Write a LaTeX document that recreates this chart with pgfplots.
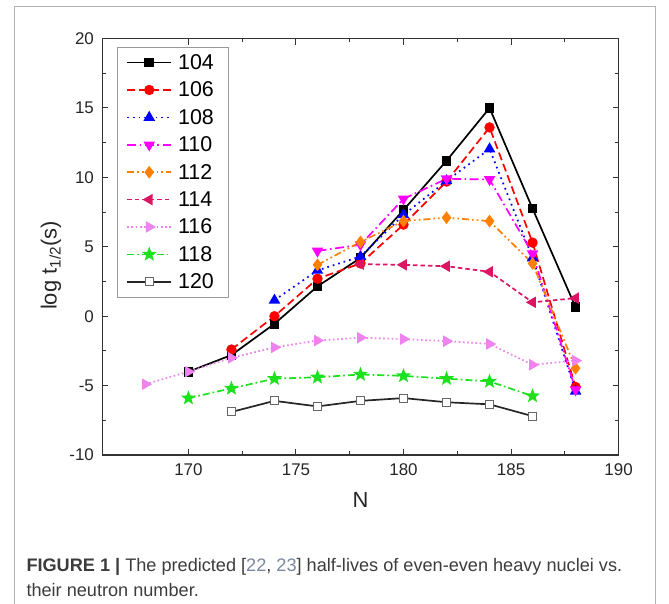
\documentclass[border=0pt]{standalone}
\usepackage{fontspec}
\setmainfont{Liberation Sans}
\usepackage{pgfplots}
\pgfplotsset{compat=1.18}
\usetikzlibrary{plotmarks}

\definecolor{c106}{RGB}{255,0,0}
\definecolor{c108}{RGB}{0,0,255}
\definecolor{c110}{RGB}{255,0,255}
\definecolor{c112}{RGB}{255,128,0}
\definecolor{c114}{RGB}{220,20,100}
\definecolor{c116}{RGB}{238,130,238}
\definecolor{c118}{RGB}{30,225,30}
\definecolor{capgray}{RGB}{60,60,60}
\definecolor{refcol}{RGB}{120,135,160}

% filled five-pointed star
\pgfdeclareplotmark{fstar}{%
  \pgfpathmoveto{\pgfpointpolar{90}{1.2\pgfplotmarksize}}%
  \pgfpathlineto{\pgfpointpolar{126}{0.5\pgfplotmarksize}}%
  \pgfpathlineto{\pgfpointpolar{162}{1.2\pgfplotmarksize}}%
  \pgfpathlineto{\pgfpointpolar{198}{0.5\pgfplotmarksize}}%
  \pgfpathlineto{\pgfpointpolar{234}{1.2\pgfplotmarksize}}%
  \pgfpathlineto{\pgfpointpolar{270}{0.5\pgfplotmarksize}}%
  \pgfpathlineto{\pgfpointpolar{306}{1.2\pgfplotmarksize}}%
  \pgfpathlineto{\pgfpointpolar{342}{0.5\pgfplotmarksize}}%
  \pgfpathlineto{\pgfpointpolar{18}{1.2\pgfplotmarksize}}%
  \pgfpathlineto{\pgfpointpolar{54}{0.5\pgfplotmarksize}}%
  \pgfpathclose
  \pgfusepathqfillstroke
}

\begin{document}
\begin{tikzpicture}
\useasboundingbox (0bp,0bp) rectangle (669bp,604bp);
\draw[gray!60, line width=1bp] (14bp,-5bp) -- (14bp,597bp) -- (655bp,597bp) -- (655bp,-5bp);

\begin{axis}[
  at={(102.4bp,149bp)}, anchor=south west,
  scale only axis,
  width=516.2bp, height=416.4bp,
  xmin=166, xmax=190, ymin=-10, ymax=20,
  xtick={170,175,...,190}, ytick={-10,-5,...,20},
  minor x tick num=1, minor y tick num=1,
  tick align=inside,
  major tick length=6bp, minor tick length=3.5bp,
  axis line style={line width=1.2bp, black!80},
  every tick/.style={line width=1bp, black!80},
  tick label style={font=\fontsize{17}{17}\selectfont, black!85},
  /pgf/number format/assume math mode=true,
  xticklabel style={yshift=-5bp},
  yticklabel style={xshift=-5bp},
  xlabel={N}, ylabel={log t\textsubscript{1/2}(s)},
  label style={font=\fontsize{22}{22}\selectfont, black!85},
  xlabel style={at={(axis description cs:0.5,-0.108)}, anchor=center},
  ylabel style={at={(axis description cs:-0.0996,0.455)}, anchor=center},
  every axis plot/.append style={line width=1.7bp},
  legend style={at={(axis description cs:0.0283,0.98)}, anchor=north west,
    draw=gray!80, line width=0.8bp, font=\fontsize{21.5}{21.5}\selectfont,
    inner xsep=9bp, inner ysep=5bp, row sep=7bp,
    nodes={inner xsep=6bp}},
  legend cell align=left,
  legend image code/.code={\draw[line width=1.7bp, mark repeat=2,mark phase=2,#1] plot coordinates {(0bp,0bp) (22bp,0bp) (44bp,0bp)};},
]
\addplot[black, mark=square*, mark size=4bp, mark options={solid}]
  coordinates {(170,-4.0) (172,-2.8) (174,-0.55) (176,2.15) (178,4.2) (180,7.65) (182,11.2) (184,15.0) (186,7.75) (188,0.65)};
\addplot[c106, dash pattern=on 8bp off 4bp, mark=*, mark size=4.3bp, mark options={solid}]
  coordinates {(172,-2.4) (174,0.0) (176,2.7) (178,3.8) (180,6.6) (182,9.7) (184,13.6) (186,5.3) (188,-5.1)};
\addplot[c108, dash pattern=on 1.7bp off 4bp, mark=triangle*, mark size=5bp, mark options={solid}]
  coordinates {(174,1.15) (176,3.3) (178,4.3) (180,7.3) (182,9.75) (184,12.05) (186,4.2) (188,-5.4)};
\addplot[c110, dash pattern=on 9bp off 3.5bp on 1.7bp off 3.5bp, mark=triangle*, mark size=5bp, mark options={solid, rotate=180}]
  coordinates {(176,4.7) (178,5.15) (180,8.45) (182,9.9) (184,9.85) (186,4.5) (188,-5.3)};
\addplot[c112, dash pattern=on 7bp off 3bp on 1.7bp off 3bp on 1.7bp off 3bp, mark=diamond*, mark size=5bp, mark options={solid}]
  coordinates {(176,3.7) (178,5.35) (180,6.85) (182,7.1) (184,6.85) (186,3.8) (188,-3.75)};
\addplot[c114, dash pattern=on 4.5bp off 3bp, mark=triangle*, mark size=5bp, mark options={solid, rotate=90}]
  coordinates {(178,3.75) (180,3.7) (182,3.6) (184,3.2) (186,1.0) (188,1.3)};
\addplot[c116, dash pattern=on 1.7bp off 2.5bp, mark=triangle*, mark size=5bp, mark options={solid, rotate=-90}]
  coordinates {(168,-4.9) (170,-4.0) (172,-3.0) (174,-2.25) (176,-1.75) (178,-1.55) (180,-1.65) (182,-1.8) (184,-2.0) (186,-3.5) (188,-3.2)};
\addplot[c118, dash pattern=on 7bp off 3bp on 1.7bp off 3bp, mark=fstar, mark size=4.5bp, mark options={solid}]
  coordinates {(170,-5.9) (172,-5.2) (174,-4.5) (176,-4.4) (178,-4.2) (180,-4.3) (182,-4.5) (184,-4.7) (186,-5.75)};
\addplot[black!85, mark=square*, mark size=4bp, mark options={solid, fill=white, draw=black!60, line width=1bp}]
  coordinates {(172,-6.9) (174,-6.1) (176,-6.5) (178,-6.1) (180,-5.9) (182,-6.2) (184,-6.35) (186,-7.2)};
\legend{104,106,108,110,112,114,116,118,120}
\end{axis}

\node[anchor=base west, font=\fontsize{18.2}{20}\selectfont, text=capgray] at (23bp,33bp)
  {\textbf{FIGURE 1 |} The predicted [\textcolor{refcol}{22}, \textcolor{refcol}{23}] half-lives of even-even heavy nuclei vs.};
\node[anchor=base west, font=\fontsize{18.2}{20}\selectfont, text=capgray] at (23bp,8bp)
  {their neutron number.};
\end{tikzpicture}
\end{document}
